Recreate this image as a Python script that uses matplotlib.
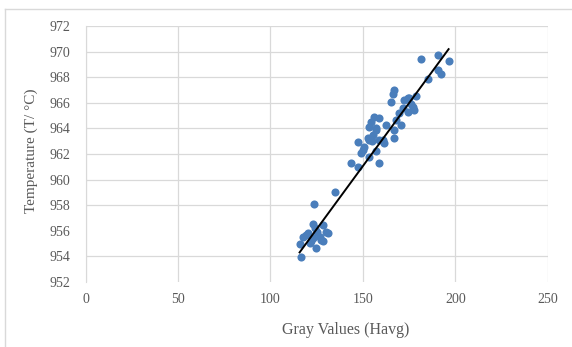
import numpy as np
import matplotlib.pyplot as plt
from matplotlib.lines import Line2D

# gray value (Havg) vs temperature
gray = [181.5, 190.5, 196.4, 190.5, 192.3, 185.1, 167.1, 166.2, 165.3, 172.5,
        175.2, 178.8, 177.9, 174.3, 169.8, 168.0, 170.7, 167.1, 167.1, 156.3,
        159.0, 154.5, 153.6, 157.2, 155.4, 152.7, 160.8, 161.7, 147.3, 150.9,
        149.1, 153.6, 143.7, 147.3, 158.6, 134.7, 123.5, 128.4, 130.2, 123.9,
        120.3, 126.6, 117.6, 115.8, 121.2, 124.8, 127.5, 123.0, 116.7,
        174.4, 177.0, 162.6, 153.6, 150.0, 157.2, 159.0,
        123.0, 131.1, 119.4, 128.4,
        157.0, 155.0, 172.0, 176.0, 125.0, 122.0]
temp = [969.4, 969.74, 969.3, 968.57, 968.26, 967.84, 967.0, 966.7, 966.1, 966.2,
        966.36, 966.5, 965.45, 965.3, 965.2, 964.66, 964.27, 963.88, 963.23, 964.92,
        964.8, 964.53, 964.14, 963.88, 963.5, 963.23, 963.1, 962.84, 962.97, 962.58,
        962.06, 961.8, 961.33, 961.0, 961.33, 959.0, 958.08, 956.46, 955.94, 956.2,
        955.8, 955.55, 955.55, 954.98, 955.03, 954.64, 955.3, 955.42, 953.94,
        966.36, 965.7, 964.27, 963.1, 962.3, 962.2, 963.1,
        956.5, 955.8, 955.7, 955.2,
        964.0, 963.0, 965.6, 965.9, 955.9, 955.2]

# linear trendline (slope, intercept)
trend_slope = 0.197
trend_icept = 931.5

x_ticks = [0, 50, 100, 150, 200, 250]
y_ticks = [952, 954, 956, 958, 960, 962, 964, 966, 968, 970, 972]

plt.rcParams["font.family"] = ["Liberation Serif", "DejaVu Serif"]
fig = plt.figure(figsize=(5.72, 3.47), dpi=100)
ax = fig.add_axes([0.1495, 0.1873, 0.808, 0.7378])

ax.scatter(gray, temp, s=34, color="#4a7ebb", zorder=3, linewidths=0)
xs = np.array([min(gray), max(gray)])
ax.plot(xs, trend_slope * xs + trend_icept, color="black", lw=1.4, zorder=4)

ax.set_xlim(0, 250); ax.set_ylim(952, 972)
ax.set_xticks(x_ticks); ax.set_yticks(y_ticks)
ax.tick_params(length=0, labelsize=10, labelcolor="#595959")
ax.tick_params(axis="y", pad=11); ax.tick_params(axis="x", pad=8)
ax.grid(True, color="#d9d9d9", lw=0.9)
ax.set_axisbelow(True)
# gridlines at 952 and 956 are not visible in the source
for val, gl in zip(y_ticks, ax.yaxis.get_gridlines()):
    if val in (952, 956):
        gl.set_visible(False)
for s in ["top", "right", "bottom"]:
    ax.spines[s].set_visible(False)
ax.spines["left"].set_color("#d9d9d9")

ax.set_xlabel("Gray Values (Havg)", fontsize=11.5, color="#595959")
ax.set_ylabel("Temperature (T/ °C)", fontsize=11, color="#595959")
ax.xaxis.set_label_coords(0.564, -0.156)
ax.yaxis.set_label_coords(-0.103, 0.512)

# outer chart frame (cut off at right/bottom)
fig.add_artist(Line2D([0.0087, 1.0], [0.974, 0.974], transform=fig.transFigure, color="#d9d9d9", lw=1))
fig.add_artist(Line2D([0.0087, 0.0087], [0.0, 0.974], transform=fig.transFigure, color="#d9d9d9", lw=1))

fig.savefig("out.png", dpi=100)
